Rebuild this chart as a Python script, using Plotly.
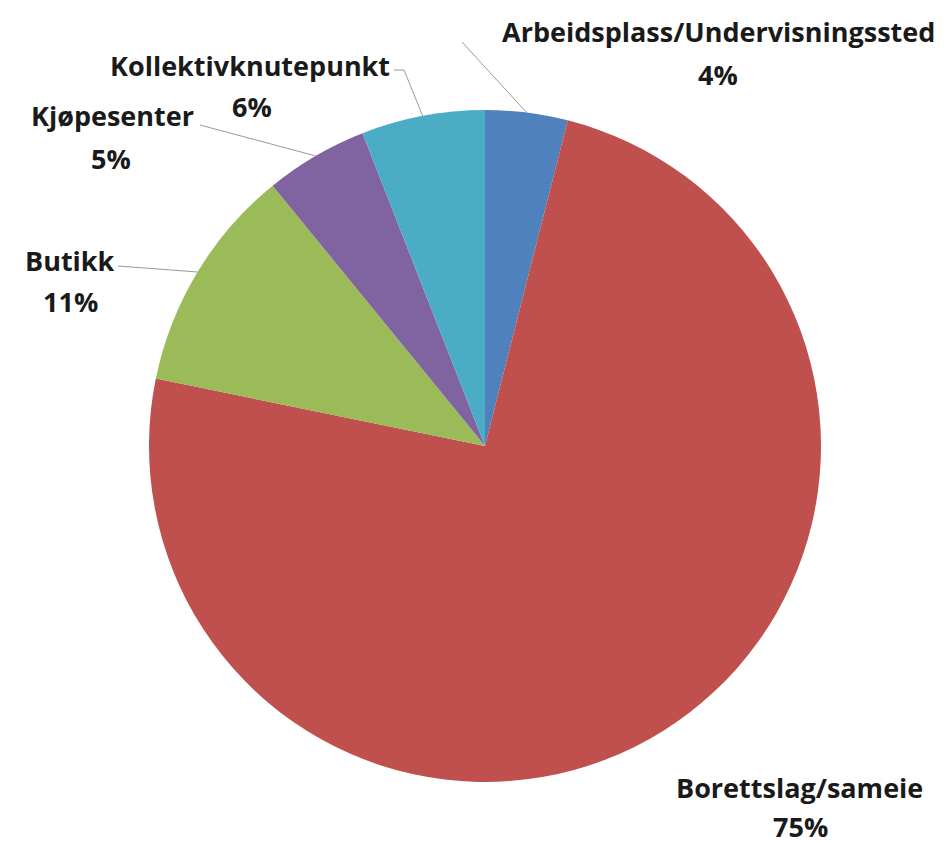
import math
import plotly.graph_objects as go

# ---- data ----
categories = ["Arbeidsplass/Undervisningssted", "Borettslag/sameie", "Butikk",
              "Kjøpesenter", "Kollektivknutepunkt"]
values = [4, 75, 11, 5, 6]          # percent
colors = ["#4F81BD", "#C0504D", "#9BBB59", "#8064A2", "#4BACC6"]

W, H = 950, 845
OFF = 8                              # page body margin
CX, CY, R = 485 - OFF, 446 - OFF, 336   # pie center / radius in figure pixels

def px(x):
    return x / W

def py(y):
    return 1 - y / H

fig = go.Figure(go.Pie(
    labels=categories, values=values, sort=False, direction="clockwise",
    rotation=0, textinfo="none", hoverinfo="label+percent",
    marker=dict(colors=colors, line=dict(width=0)),
    domain=dict(x=[px(CX - R), px(CX + R)], y=[py(CY + R), py(CY - R)]),
    showlegend=False,
))

# label placement (screen pixel centres of name line and percent line), and leader-line start
label_pos = {
    "Arbeidsplass/Undervisningssted": ((718, 31), (718, 75), [(462, 42)]),
    "Borettslag/sameie": ((799, 787), (800, 826), None),
    "Butikk": ((70, 260), (70, 301), [(118, 266)]),
    "Kjøpesenter": ((112, 116), (111, 158), [(200, 125)]),
    "Kollektivknutepunkt": ((250, 65), (252, 106), [(394, 70), (404, 70)]),
}

font = dict(family="'Open Sans', Lato, sans-serif", size=27, color="#1a1a1a")
total = sum(values)
cum = 0
for cat, v in zip(categories, values):
    mid = (cum + v / 2) / total * 2 * math.pi
    cum += v
    (nx, ny), (qx, qy), lstart = label_pos[cat]
    fig.add_annotation(x=px(nx - OFF), y=py(ny - OFF), xref="paper", yref="paper",
                       text=f"<b>{cat}</b>", showarrow=False, font=font,
                       xanchor="center", yanchor="middle")
    fig.add_annotation(x=px(qx - OFF), y=py(qy - OFF), xref="paper", yref="paper",
                       text=f"<b>{v}%</b>", showarrow=False, font=font,
                       xanchor="center", yanchor="middle")
    if lstart is not None:
        ex = CX + R * math.sin(mid)
        ey = CY - R * math.cos(mid)
        pts = [(x - OFF, y - OFF) for x, y in lstart] + [(ex, ey)]
        for (x0, y0), (x1, y1) in zip(pts[:-1], pts[1:]):
            fig.add_shape(type="line", xref="paper", yref="paper",
                          x0=px(x0), y0=py(y0), x1=px(x1), y1=py(y1),
                          line=dict(color="#9a9a9a", width=1))

fig.update_layout(width=W, height=H, margin=dict(l=0, r=0, t=0, b=0),
                  paper_bgcolor="white", plot_bgcolor="white")
fig.write_html("out.html")
